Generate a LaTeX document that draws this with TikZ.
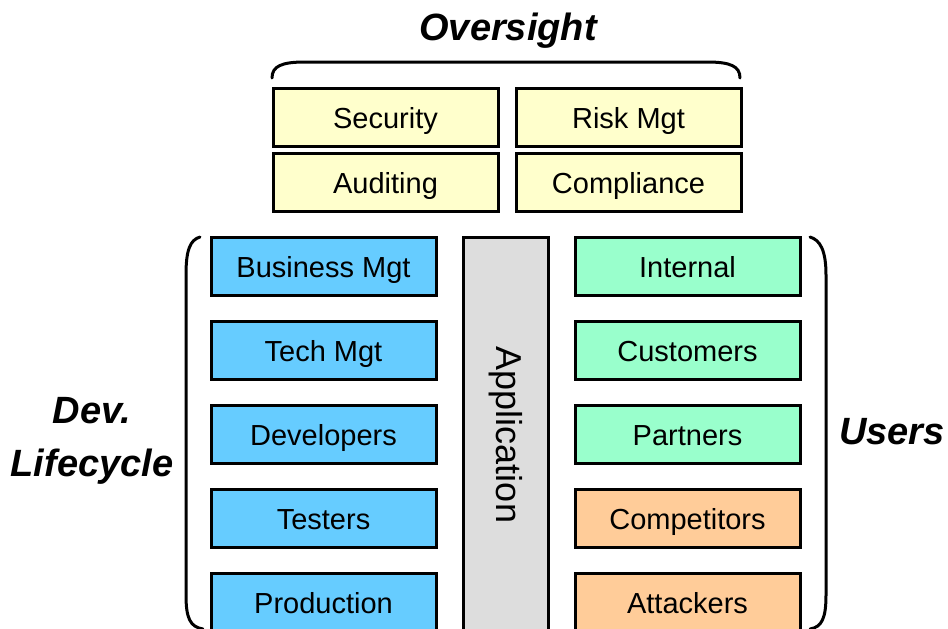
\documentclass[tikz,border=0pt]{standalone}
\usepackage{fontspec}
\setmainfont{Liberation Sans}
\definecolor{ovyellow}{HTML}{FFFFCC}
\definecolor{devblue}{HTML}{66CCFF}
\definecolor{usergreen}{HTML}{99FFCC}
\definecolor{badorange}{HTML}{FFCC99}
\definecolor{appgray}{HTML}{DDDDDD}
\begin{document}
\begin{tikzpicture}[x=1pt,y=-1pt,
		box/.style={draw, line width=3pt, minimum width=225pt, minimum height=58pt,
			inner sep=0pt, text height=22pt, text depth=0pt, font=\fontsize{29}{34}\selectfont},
		group/.style={font=\fontsize{38}{53}\selectfont\bfseries\itshape, align=center},
		brace/.style={line width=3pt, line cap=round}]
		\useasboundingbox (0,0) rectangle (948,629);
		\clip (0,0) rectangle (948,629);
		% Oversight
		\node[group] (oversight) at (508,31) {Oversight};
		\draw[brace] (272,78) .. controls (272,66) and (282,62) .. (305,62) -- (707,62)
			.. controls (730,62) and (740,66) .. (740,78);
		\node[box, fill=ovyellow] (security) at (385.5,117) {Security};
		\node[box, fill=ovyellow] (risk) at (628.5,117) {Risk Mgt};
		\node[box, fill=ovyellow] (auditing) at (385.5,182) {Auditing};
		\node[box, fill=ovyellow] (compliance) at (628.5,182) {Compliance};
		% Dev. Lifecycle
		\draw[brace] (200,237) .. controls (190,240) and (186,250) .. (186,275) -- (186,595)
			.. controls (186,618) and (190,627) .. (203,629);
		\node[group] (devlife) at (92,441) {Dev.\\Lifecycle};
		\node[box, fill=devblue] (business) at (323.5,266) {Business Mgt};
		\node[box, fill=devblue] (tech) at (323.5,350) {Tech Mgt};
		\node[box, fill=devblue] (developers) at (323.5,434) {Developers};
		\node[box, fill=devblue] (testers) at (323.5,518) {Testers};
		\node[box, fill=devblue] (production) at (323.5,602) {Production};
		% Application
		\node[box, fill=appgray, minimum width=85pt, minimum height=396pt] (app) at (505.5,435) {};
		\node[rotate=-90, font=\fontsize{36}{42}\selectfont] (apptext) at (app.center) {Application};
		% Users
		\node[box, fill=usergreen] (internal) at (687.5,266) {Internal};
		\node[box, fill=usergreen] (customers) at (687.5,350) {Customers};
		\node[box, fill=usergreen] (partners) at (687.5,434) {Partners};
		\node[box, fill=badorange] (competitors) at (687.5,518) {Competitors};
		\node[box, fill=badorange] (attackers) at (687.5,602) {Attackers};
		\draw[brace] (810,237) .. controls (820,240) and (826,250) .. (826,275) -- (826,595)
			.. controls (826,618) and (822,627) .. (810,629);
		\node[group] (users) at (892,432) {Users};
	\end{tikzpicture}
\end{document}
